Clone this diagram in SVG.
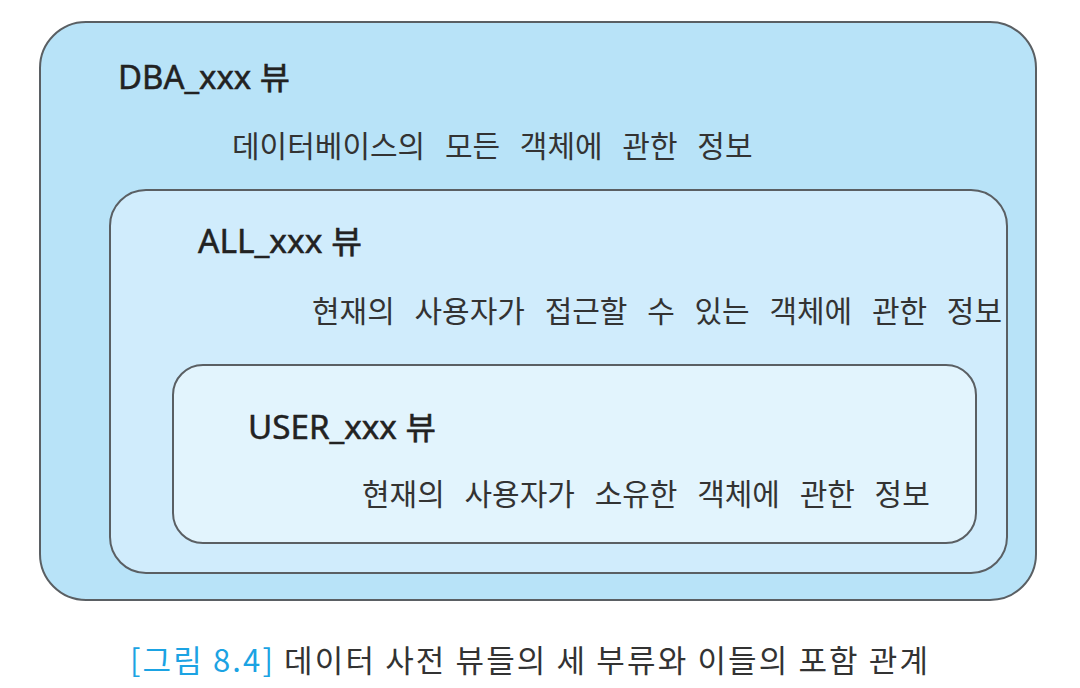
<svg xmlns="http://www.w3.org/2000/svg" width="1080" height="688" viewBox="0 0 1080 688">
<style>
.box{stroke:#5a5f63;stroke-width:2}
.title{font-family:"Noto Sans","Noto Sans CJK KR",sans-serif;font-size:32px;font-weight:400;fill:#222;stroke:#222;stroke-width:0.5}
.desc{font-family:"Noto Sans CJK KR",sans-serif;font-size:30px;fill:#333;word-spacing:13px}
.cap{font-family:"Noto Sans CJK KR",sans-serif;font-size:31px;fill:#333}
</style>
<rect width="1080" height="688" fill="#fff"/>
<g id="dba">
<rect class="box" x="40" y="22" width="996" height="578" rx="46" fill="#b8e3f8"/>
<text class="title" x="118" y="89" textLength="172" lengthAdjust="spacingAndGlyphs">DBA_xxx 뷰</text>
<text class="desc" x="232" y="157">데이터베이스의 모든 객체에 관한 정보</text>
</g>
<g id="all">
<rect class="box" x="110" y="190" width="897" height="383" rx="36" fill="#d0ecfc"/>
<text class="title" x="198" y="253" textLength="164" lengthAdjust="spacingAndGlyphs">ALL_xxx 뷰</text>
<text class="desc" x="312" y="322">현재의 사용자가 접근할 수 있는 객체에 관한 정보</text>
</g>
<g id="user">
<rect class="box" x="173" y="365" width="803" height="178" rx="30" fill="#e2f4fd"/>
<text class="title" x="248" y="439" textLength="188" lengthAdjust="spacingAndGlyphs">USER_xxx 뷰</text>
<text class="desc" x="362" y="505">현재의 사용자가 소유한 객체에 관한 정보</text>
</g>
<g id="connectors"></g>
<text class="cap" x="130" y="672" textLength="798" lengthAdjust="spacing"><tspan fill="#1ba3e3">[그림 8.4]</tspan> 데이터 사전 뷰들의 세 부류와 이들의 포함 관계</text>
</svg>
